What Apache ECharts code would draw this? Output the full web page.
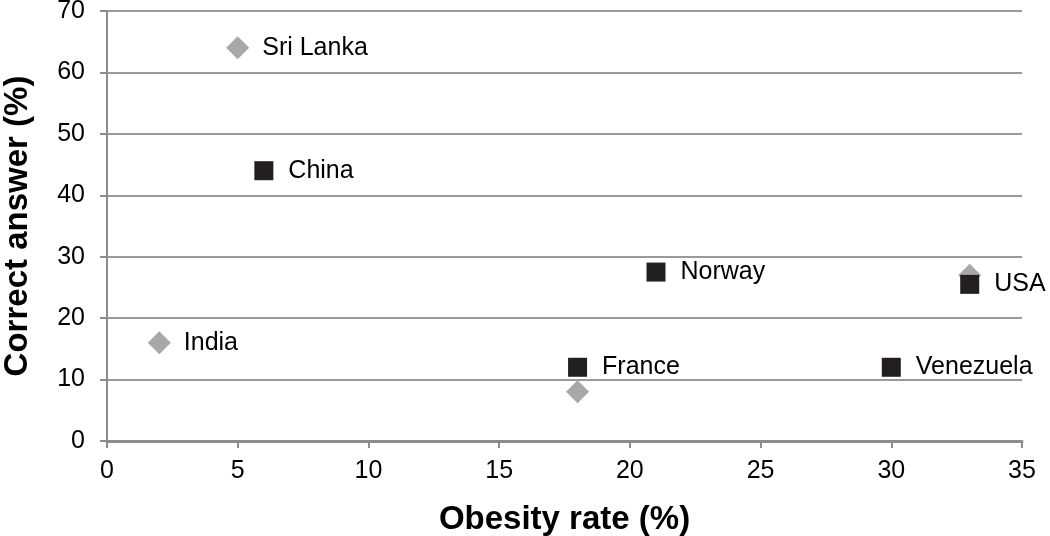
<!DOCTYPE html>
<html><head><meta charset="utf-8">
<script src="https://cdn.jsdelivr.net/npm/echarts@6/dist/echarts.min.js"></script>
<style>html,body{margin:0;padding:0;background:#fff}#c{width:1050px;height:536px}</style>
</head><body><div id="c"></div>
<script>
// Gray diamonds
const grayNames = ["Sri Lanka", "India", "France", "USA"];
const grayX = [5, 2, 18, 33];
const grayY = [64, 16, 8, 27];
const grayShowLabel = [true, true, false, false];
// Black squares
const blackNames = ["China", "Norway", "France", "USA", "Venezuela"];
const blackX = [6, 21, 18, 33, 30];
const blackY = [44, 27.5, 12, 25.5, 12];
const blackShowLabel = [true, true, true, true, true];
const xTicks = [0, 5, 10, 15, 20, 25, 30, 35];
const yTicks = [0, 10, 20, 30, 40, 50, 60, 70];

function build(names, xs, ys, show) {
  return names.map((n, i) => ({ name: n, value: [xs[i], ys[i]], label: { show: show[i] } }));
}
const FONT = 'Liberation Sans, Arial, sans-serif';
const labelStyle = { position: 'right', distance: 15, formatter: '{b}', color: '#000',
  fontFamily: FONT, fontSize: 25 };

const chart = echarts.init(document.getElementById('c'));
chart.setOption({
  animation: false,
  grid: { left: 107, right: 28, top: 11, bottom: 95, containLabel: false, outerBoundsMode: 'none' },
  xAxis: {
    type: 'value', min: xTicks[0], max: xTicks[xTicks.length - 1], interval: 5,
    name: 'Obesity rate (%)', nameLocation: 'middle', nameGap: 62,
    nameTextStyle: { fontFamily: FONT, fontSize: 33, fontWeight: 'bold', color: '#000' },
    axisLine: { show: true, lineStyle: { color: '#8c8c8c', width: 3 } },
    axisTick: { show: true, length: 7, lineStyle: { color: '#8c8c8c', width: 2 } },
    axisLabel: { margin: 18, fontFamily: FONT, fontSize: 25, color: '#000' },
    splitLine: { show: false }
  },
  yAxis: {
    type: 'value', min: yTicks[0], max: yTicks[yTicks.length - 1], interval: 10,
    name: 'Correct answer (%)', nameLocation: 'middle', nameGap: 73, nameRotate: 90,
    nameTextStyle: { fontFamily: FONT, fontSize: 33, fontWeight: 'bold', color: '#000' },
    axisLine: { show: true, lineStyle: { color: '#8c8c8c', width: 2 } },
    axisTick: { show: true, length: 7, lineStyle: { color: '#8c8c8c', width: 2 } },
    axisLabel: { margin: 22, fontFamily: FONT, fontSize: 25, color: '#000' },
    splitLine: { show: true, lineStyle: { color: '#9a9a9a', width: 2 } }
  },
  series: [
    { type: 'scatter', symbol: 'diamond', symbolSize: [23, 23],
      itemStyle: { color: '#a8a8a8', opacity: 1 }, label: Object.assign({}, labelStyle, { distance: 13 }),
      data: build(grayNames, grayX, grayY, grayShowLabel) },
    { type: 'scatter', symbol: 'rect', symbolSize: 19,
      itemStyle: { color: '#231f20', opacity: 1 }, label: labelStyle,
      data: build(blackNames, blackX, blackY, blackShowLabel) }
  ]
});
</script></body></html>
